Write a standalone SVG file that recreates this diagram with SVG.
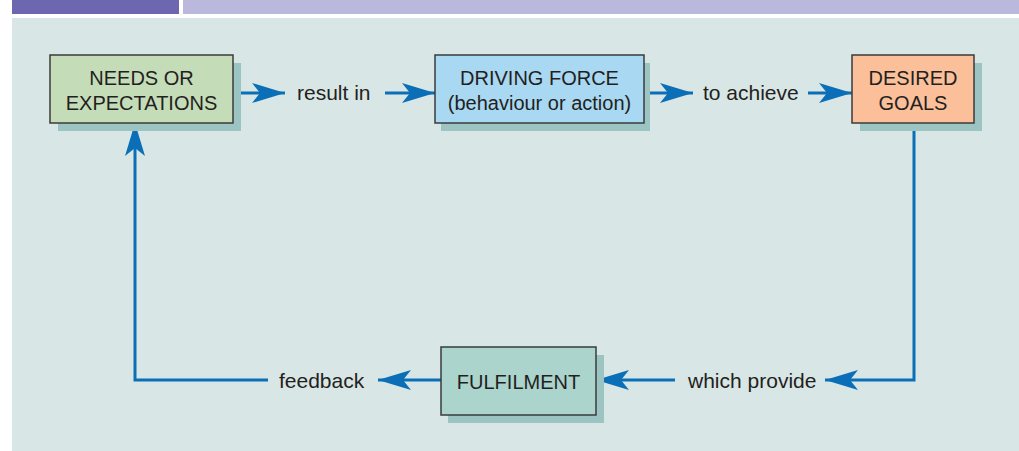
<svg xmlns="http://www.w3.org/2000/svg" width="1019" height="451" viewBox="0 0 1019 451">
  <style>
    .box { stroke: #3b3b3b; stroke-width: 1.5; }
    .shadow { fill: #9cc4c3; }
    .label { font-family: "Liberation Sans", Arial, sans-serif; font-size: 20px; fill: #231f20; text-anchor: middle; }
    .word { font-family: "Liberation Sans", Arial, sans-serif; font-size: 21px; fill: #231f20; }
    .link { fill: none; stroke: #0a6fb7; stroke-width: 3; }
  </style>
  <defs>
    <marker id="head" viewBox="-33 -10 35 20" refX="0" refY="0" markerUnits="userSpaceOnUse" markerWidth="35" markerHeight="20" orient="auto">
      <path d="M0,0 L-33,-10 L-25,0 L-33,10 Z" fill="#0a6fb7"/>
    </marker>
  </defs>

  <!-- header strip -->
  <rect x="12" y="0" width="167" height="14" fill="#6c67ae"/>
  <rect x="183" y="0" width="836" height="14" fill="#bab8dc"/>

  <!-- panel -->
  <rect x="12" y="18" width="1007" height="433" fill="#d9e6e6"/>

  <!-- connectors -->
  <g id="connectors">
    <line class="link" x1="233" y1="93" x2="285" y2="93" marker-end="url(#head)"/>
    <line class="link" x1="385" y1="93" x2="435" y2="93" marker-end="url(#head)"/>
    <line class="link" x1="644" y1="93" x2="693" y2="93" marker-end="url(#head)"/>
    <line class="link" x1="808" y1="93" x2="852" y2="93" marker-end="url(#head)"/>
    <polyline class="link" points="914,123 914,380 825,380" marker-end="url(#head)"/>
    <line class="link" x1="675" y1="380" x2="596" y2="380" marker-end="url(#head)"/>
    <line class="link" x1="441" y1="380" x2="378" y2="380" marker-end="url(#head)"/>
    <polyline class="link" points="268,380 135,380 135,123" marker-end="url(#head)"/>
    <text class="word" x="297" y="100">result in</text>
    <text class="word" x="703" y="100">to achieve</text>
    <text class="word" x="688" y="388">which provide</text>
    <text class="word" x="279" y="388">feedback</text>
  </g>

  <!-- nodes -->
  <g id="needs">
    <rect class="shadow" x="58" y="63" width="183" height="68"/>
    <rect class="box" x="50" y="55" width="183" height="68" fill="#c5dcb8"/>
    <text class="label" x="141.5" y="85">NEEDS OR</text>
    <text class="label" x="141.5" y="110">EXPECTATIONS</text>
  </g>
  <g id="driving-force">
    <rect class="shadow" x="441" y="63" width="209" height="68"/>
    <rect class="box" x="435" y="55" width="209" height="68" fill="#a9d8f2"/>
    <text class="label" x="539.5" y="85">DRIVING FORCE</text>
    <text class="label" x="539.5" y="110">(behaviour or action)</text>
  </g>
  <g id="desired-goals">
    <rect class="shadow" x="860" y="63" width="122" height="68"/>
    <rect class="box" x="852" y="55" width="122" height="68" fill="#fbbf9a"/>
    <text class="label" x="913" y="85">DESIRED</text>
    <text class="label" x="913" y="110">GOALS</text>
  </g>
  <g id="fulfilment">
    <rect class="shadow" x="448" y="355" width="156" height="68"/>
    <rect class="box" x="441" y="347" width="155" height="68" fill="#aad4cc"/>
    <text class="label" x="518.5" y="389">FULFILMENT</text>
  </g>
</svg>
